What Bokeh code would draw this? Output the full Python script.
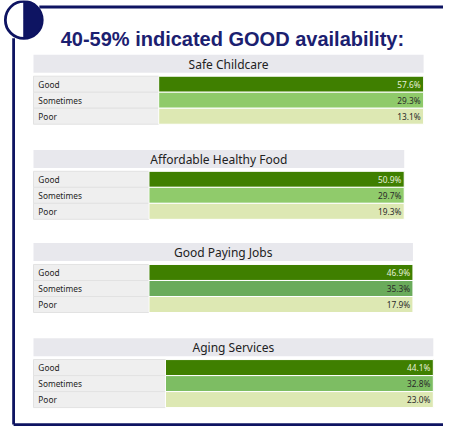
import math
from bokeh.plotting import figure
from bokeh.models import ColumnDataSource, Range1d
from bokeh.core.properties import value
from bokeh.embed import file_html
from bokeh.resources import INLINE

# ---------------- data ----------------
title = "40-59% indicated GOOD availability:"
topics = ["Safe Childcare", "Affordable Healthy Food", "Good Paying Jobs", "Aging Services"]
ratings = ["Good", "Sometimes", "Poor"]
good = [57.6, 50.9, 46.9, 44.1]
sometimes = [29.3, 29.7, 35.3, 32.8]
poor = [13.1, 19.3, 17.9, 23.0]

# ---------------- layout / style ----------------
PANEL_TOP = [60, 158, 254, 352]
PANEL_RIGHT = [439, 419, 428, 449]
LABEL_RIGHT = [166, 156, 156, 173]
PANEL_LEFT = 37
HEADER_H = 18.5
GAP = 3.5
ROW_H = 16.5

NAVY = "#0e1462"
TITLE_COLOR = "#1b2070"
GOOD_COLOR = "#3f7f00"
SOMETIMES_COLORS = ["#8fca6a", "#90cb6b", "#6aab5b", "#7dbd63"]
POOR_COLOR = "#dde8b3"
LABEL_FILL = "#efefef"
HEADER_FILL = "#e8e8ed"

W, H = 443, 427
S = 440 / 427.0  # data units per screen pixel (uniform)
X0, Y0 = 3, 4

p = figure(width=W, height=H,
           x_range=Range1d(X0, X0 + W * S), y_range=Range1d(Y0 + H * S, Y0),
           output_backend="svg", toolbar_location=None, min_border=0)
p.axis.visible = False
p.grid.visible = False
p.outline_line_color = None
p.background_fill_color = "white"
p.border_fill_color = "white"

# ---------------- frame decoration ----------------
p.segment(x0=[43, 16.5, 16.5], y0=[10.7, 43, 441], x1=[470, 16.5, 470], y1=[10.7, 441, 441],
          line_color=NAVY, line_width=2.8)
p.circle(x=[27], y=[24], radius=19, fill_color="white", line_color=NAVY, line_width=2.8)
p.wedge(x=[27], y=[24], radius=19, start_angle=-math.pi / 2, end_angle=math.pi / 2,
        fill_color=NAVY, line_color=NAVY, line_width=1)

p.text(x=[65], y=[43.5], text=[title], text_font=value("Liberation Sans"),
       text_font_style="bold", text_font_size="20px", text_color=TITLE_COLOR,
       text_baseline="alphabetic", text_align="left")

# ---------------- panels ----------------
series = [good, sometimes, poor]
hdr = dict(left=[], right=[], top=[], bottom=[], cx=[], cy=[], name=[])
lab = dict(left=[], right=[], top=[], bottom=[], tx=[], ty=[], name=[])
bar = dict(left=[], right=[], top=[], bottom=[], tx=[], ty=[], pct=[], color=[], tcolor=[])

for i, topic in enumerate(topics):
    top = PANEL_TOP[i]
    hdr["left"].append(PANEL_LEFT); hdr["right"].append(PANEL_RIGHT[i])
    hdr["top"].append(top); hdr["bottom"].append(top + HEADER_H)
    hdr["cx"].append((PANEL_LEFT + PANEL_RIGHT[i]) / 2); hdr["cy"].append(top + HEADER_H / 2 + 0.5)
    hdr["name"].append(topic)
    for j, r in enumerate(ratings):
        rt = top + HEADER_H + GAP + j * ROW_H
        rb = rt + ROW_H
        v = series[j][i]
        lab["left"].append(PANEL_LEFT); lab["right"].append(LABEL_RIGHT[i])
        lab["top"].append(rt); lab["bottom"].append(rb)
        lab["tx"].append(PANEL_LEFT + 5); lab["ty"].append((rt + rb) / 2)
        lab["name"].append(r)
        bar["left"].append(LABEL_RIGHT[i]); bar["right"].append(PANEL_RIGHT[i])
        bar["top"].append(rt); bar["bottom"].append(rb)
        bar["tx"].append(PANEL_RIGHT[i] - 3); bar["ty"].append((rt + rb) / 2)
        bar["pct"].append(f"{v:.1f}%")
        bar["color"].append([GOOD_COLOR, SOMETIMES_COLORS[i], POOR_COLOR][j])
        bar["tcolor"].append("#e6f0da" if j == 0 else "#2a2a2a")

hs = ColumnDataSource(hdr)
ls = ColumnDataSource(lab)
bs = ColumnDataSource(bar)

p.quad(left="left", right="right", top="top", bottom="bottom", source=hs,
       fill_color=HEADER_FILL, line_color=None)
p.text(x="cx", y="cy", text="name", source=hs, text_font=value("Noto Sans"),
       text_font_size="12px", text_color="#222222", text_align="center",
       text_baseline="middle")

p.quad(left="left", right="right", top="top", bottom="bottom", source=ls,
       fill_color=LABEL_FILL, line_color="#e2e2e2", line_width=1)
p.text(x="tx", y="ty", text="name", source=ls, text_font=value("Noto Sans"),
       text_font_size="8.3px", text_color="#1e1e1e", text_align="left",
       text_baseline="middle")

p.quad(left="left", right="right", top="top", bottom="bottom", source=bs,
       fill_color="color", line_color="white", line_width=1)
p.text(x="tx", y="ty", text="pct", source=bs, text_font=value("Noto Sans"),
       text_font_size="8.3px", text_color="tcolor", text_align="right",
       text_baseline="middle")

open("out.html", "w").write(file_html(p, INLINE))
